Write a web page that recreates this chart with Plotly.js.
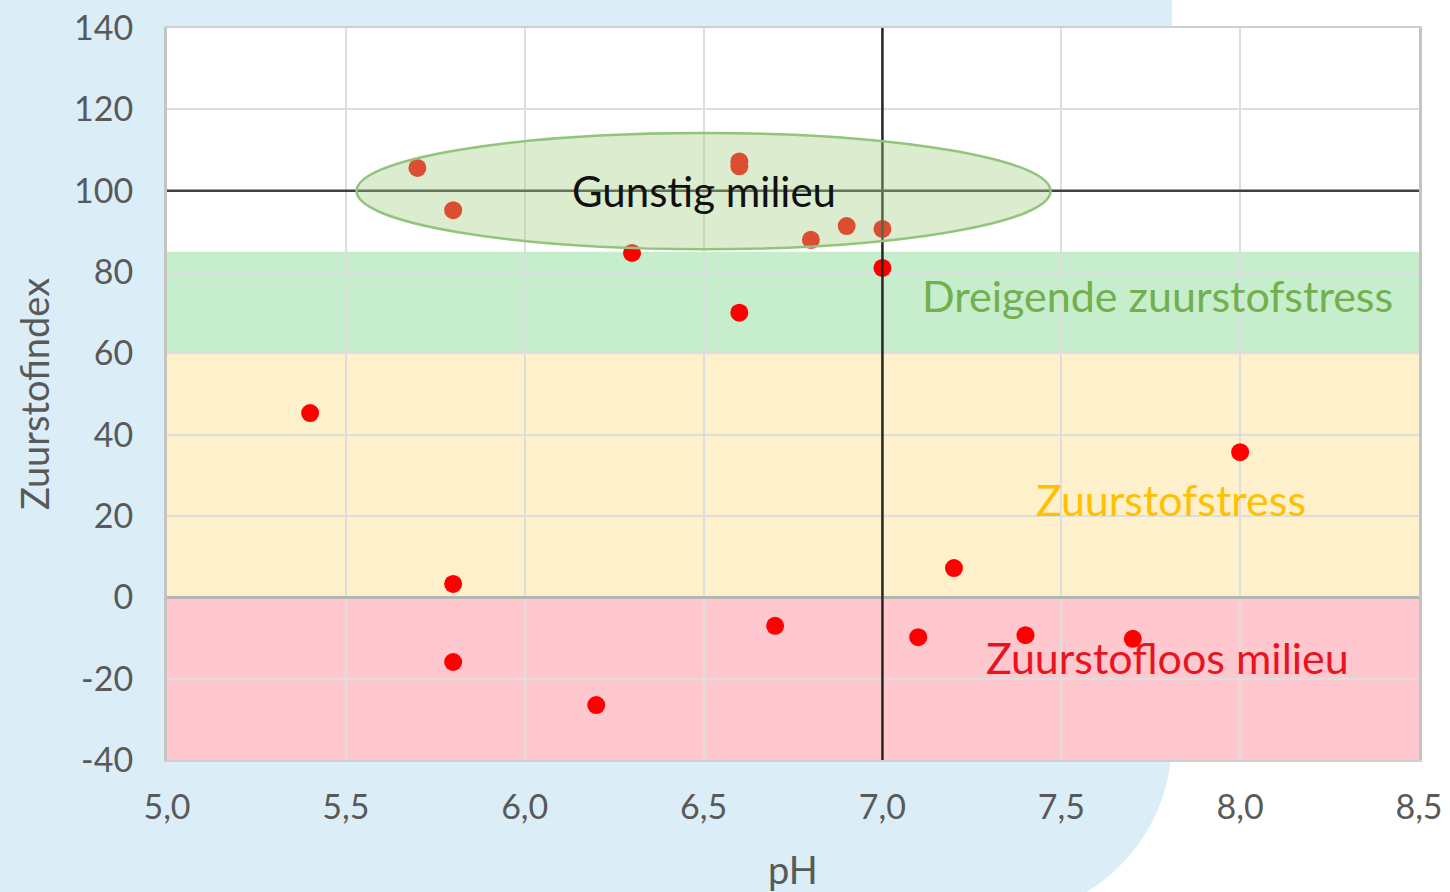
<!DOCTYPE html>
<html>
<head>
<meta charset="utf-8">
<script src="https://cdn.plot.ly/plotly-3.0.1.min.js"></script>
<style>
html,body{margin:0;padding:0;background:#ffffff;}
#chart{width:1450px;height:892px;}
</style>
</head>
<body>
<div id="chart"></div>
<script>
// ---- data ----
var phValues = [5.7, 5.8, 6.3, 6.6, 6.6, 6.8, 6.9, 7.0, 7.0, 6.6, 5.4, 8.0, 5.8, 7.2, 5.8, 6.2, 6.7, 7.1, 7.4, 7.7];
var zuurstofIndex = [105.6, 95.2, 84.7, 107.2, 106.0, 87.9, 91.3, 90.6, 81.0, 70.0, 45.3, 35.7, 3.3, 7.2, -15.9, -26.5, -7.0, -9.8, -9.3, -10.2];
var xTicks = [5.0, 5.5, 6.0, 6.5, 7.0, 7.5, 8.0, 8.5];
var xTickLabels = ["5,0", "5,5", "6,0", "6,5", "7,0", "7,5", "8,0", "8,5"];
var yTicks = [-40, -20, 0, 20, 40, 60, 80, 100, 120, 140];
var yTickLabels = ["-40", "-20", "0", "20", "40", "60", "80", "100", "120", "140"];
var bandNames = ["Zuurstofloos milieu", "Zuurstofstress", "Dreigende zuurstofstress"];
var bandLow = [-40, 0, 60];
var bandHigh = [0, 60, 85];

// ---- layout helpers ----
var W = 1450, H = 892;
var mL = 167, mR = 31, mT = 28, mB = 132;
var pw = W - mL - mR, ph = H - mT - mB;
function px(x){ return (x - mL) / pw; }
function py(y){ return (H - mB - y) / ph; }

var bandColors = ["#ffc7ce", "#fff0cc", "#c6edcc"];
var shapes = [];
// light blue background panel with rounded bottom-right corner
var R = 178, k = 0.5523;
var ex = 1172, ey = 740;
var path = "M " + px(0) + "," + py(0) +
  " L " + px(ex) + "," + py(0) +
  " L " + px(ex) + "," + py(ey) +
  " C " + px(ex) + "," + py(ey + k*R) + " " + px(ex - R + k*R) + "," + py(ey + R) + " " + px(ex - R) + "," + py(ey + R) +
  " L " + px(0) + "," + py(ey + R) + " Z";
shapes.push({type:"path", xref:"paper", yref:"paper", path:path, fillcolor:"#dbeef8", line:{width:0}, layer:"below"});
// white plot area
shapes.push({type:"rect", xref:"paper", yref:"paper", x0:0, x1:1, y0:0, y1:1, fillcolor:"#ffffff", line:{width:0}, layer:"below"});
// bands
for (var i = 0; i < bandNames.length; i++) {
  shapes.push({type:"rect", xref:"x", yref:"y", x0:5.0, x1:8.5, y0:bandLow[i], y1:bandHigh[i], fillcolor:bandColors[i], line:{width:0}, layer:"below"});
}
// reference lines
shapes.push({type:"line", xref:"x", yref:"y", x0:7.0, x1:7.0, y0:-40, y1:140, line:{color:"#262626", width:2.5}, layer:"above"});
shapes.push({type:"line", xref:"x", yref:"y", x0:5.0, x1:8.5, y0:100, y1:100, line:{color:"#404040", width:2.5}, layer:"above"});
// ellipse
shapes.push({type:"circle", xref:"x", yref:"y", x0:5.53, x1:7.47, y0:85.6, y1:114.2, fillcolor:"rgba(160,205,130,0.38)", line:{color:"#93c47d", width:2.5}, layer:"above"});

var fontFam = "Lato, 'Open Sans', sans-serif";
var annotations = [
  {x:6.5, y:100, xref:"x", yref:"y", text:"Gunstig milieu", showarrow:false, font:{family:fontFam, size:42, color:"#111111"}},
  {x:7.77, y:74.1, xref:"x", yref:"y", text:"Dreigende zuurstofstress", showarrow:false, font:{family:fontFam, size:43, color:"#72b04e"}},
  {x:7.807, y:24, xref:"x", yref:"y", text:"Zuurstofstress", showarrow:false, font:{family:fontFam, size:43, color:"#ffc000"}},
  {x:7.797, y:-14.7, xref:"x", yref:"y", text:"Zuurstofloos milieu", showarrow:false, font:{family:fontFam, size:43, color:"#e8141f"}}
];

var trace = {
  type:"scatter", mode:"markers", x:phValues, y:zuurstofIndex,
  marker:{color:"#ff0000", size:18}, hoverinfo:"x+y", showlegend:false
};

var layout = {
  width:W, height:H,
  margin:{l:mL, r:mR, t:mT, b:mB, pad:0},
  paper_bgcolor:"#ffffff", plot_bgcolor:"rgba(0,0,0,0)",
  font:{family:fontFam, color:"#595959"},
  xaxis:{range:[5.0, 8.5], tickmode:"array", tickvals:xTicks, ticktext:xTickLabels, showgrid:true, gridcolor:"#dedede", gridwidth:2,
    zeroline:false, showline:true, linecolor:"#d0d0d0", linewidth:2, mirror:true, ticks:"",
    tickfont:{size:34, color:"#595959", family:fontFam}, ticklabelstandoff:16,
    title:{text:"pH", font:{size:38, color:"#595959", family:fontFam}, standoff:34}},
  yaxis:{range:[-40, 140], tickmode:"array", tickvals:yTicks, ticktext:yTickLabels, showgrid:true, gridcolor:"#dedede", gridwidth:2,
    zeroline:true, zerolinecolor:"#b4b4b4", zerolinewidth:2.5,
    showline:true, linecolor:"#c4c4c4", linewidth:3, mirror:true, ticks:"",
    tickfont:{size:34, color:"#595959", family:fontFam}, ticklabelstandoff:24,
    title:{text:"Zuurstofindex", font:{size:38, color:"#595959", family:fontFam}, standoff:13}},
  shapes:shapes,
  annotations:annotations
};

Plotly.newPlot("chart", [trace], layout, {displayModeBar:false, staticPlot:true});
</script>
</body>
</html>
